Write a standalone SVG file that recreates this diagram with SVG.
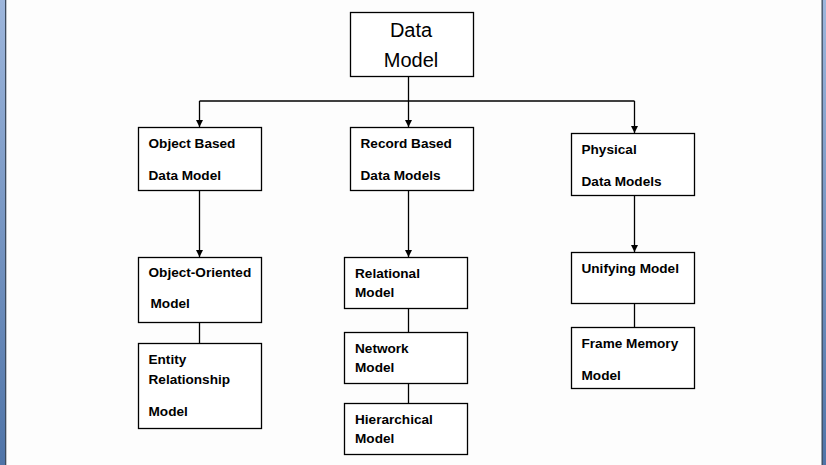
<svg xmlns="http://www.w3.org/2000/svg" width="826" height="465" viewBox="0 0 826 465">
<defs>
<linearGradient id="edge" x1="0" y1="0" x2="0" y2="1">
<stop offset="0" stop-color="#9db6dc"/>
<stop offset="1" stop-color="#4f74a8"/>
</linearGradient>
<marker id="arr" markerWidth="8" markerHeight="8" refX="7" refY="3.5" orient="auto" markerUnits="userSpaceOnUse">
<path d="M0,0 L7,3.5 L0,7 Z" fill="#000"/>
</marker>
<style>
.box{fill:#fff;stroke:#000;stroke-width:1.3}
.t{font-family:"Liberation Sans",Arial,sans-serif;font-weight:bold;font-size:13.6px;fill:#000}
.title{font-family:"Liberation Sans",Arial,sans-serif;font-size:20px;fill:#000;text-anchor:middle}
.c{fill:none;stroke:#000;stroke-width:1.3}
</style>
</defs>
<rect x="0" y="0" width="826" height="465" fill="#fdfdfd"/>
<rect x="0" y="0" width="5" height="465" fill="url(#edge)"/>
<rect x="5" y="0" width="1.3" height="465" fill="#3c4a5c"/>
<rect x="822" y="0" width="4" height="465" fill="url(#edge)"/>
<rect x="821.5" y="0" width="1.3" height="465" fill="#3c4a5c"/>

<g id="connectors">
<path class="c" d="M408.5,76 V101"/>
<path class="c" d="M199.5,101 H634.5"/>
<path class="c" d="M199.5,101 V127" marker-end="url(#arr)"/>
<path class="c" d="M408.5,101 V127" marker-end="url(#arr)"/>
<path class="c" d="M634.5,101 V133" marker-end="url(#arr)"/>
<path class="c" d="M199.5,190 V257" marker-end="url(#arr)"/>
<path class="c" d="M408.5,190 V257" marker-end="url(#arr)"/>
<path class="c" d="M634.5,195 V252" marker-end="url(#arr)"/>
<path class="c" d="M199.5,322 V343"/>
<path class="c" d="M408.5,308 V332"/>
<path class="c" d="M408.5,383 V403"/>
<path class="c" d="M634.5,303 V327"/>
</g>

<g id="data-model">
<rect class="box" x="350.5" y="12.5" width="123" height="64"/>
<text class="title" x="411" y="37">Data</text>
<text class="title" x="411" y="67">Model</text>
</g>

<g id="object-based">
<rect class="box" x="138.5" y="127.5" width="123" height="63"/>
<text class="t" x="148.5" y="148">Object Based</text>
<text class="t" x="148.5" y="179.5">Data Model</text>
</g>

<g id="record-based">
<rect class="box" x="350.5" y="127.5" width="123" height="63"/>
<text class="t" x="360.5" y="148">Record Based</text>
<text class="t" x="360.5" y="179.5">Data Models</text>
</g>

<g id="physical">
<rect class="box" x="571.5" y="133.5" width="123" height="62"/>
<text class="t" x="581.5" y="153.5">Physical</text>
<text class="t" x="581.5" y="185.5">Data Models</text>
</g>

<g id="object-oriented">
<rect class="box" x="138.5" y="257.5" width="123" height="65"/>
<text class="t" x="148.5" y="277">Object-Oriented</text>
<text class="t" x="150.5" y="308">Model</text>
</g>

<g id="entity-relationship">
<rect class="box" x="138.5" y="343.5" width="123" height="85"/>
<text class="t" x="148.5" y="364">Entity</text>
<text class="t" x="148.5" y="384">Relationship</text>
<text class="t" x="148.5" y="416">Model</text>
</g>

<g id="relational">
<rect class="box" x="344.5" y="257.5" width="123" height="51"/>
<text class="t" x="355" y="278">Relational</text>
<text class="t" x="355" y="297">Model</text>
</g>

<g id="network">
<rect class="box" x="344.5" y="332.5" width="123" height="51"/>
<text class="t" x="355" y="353">Network</text>
<text class="t" x="355" y="372">Model</text>
</g>

<g id="hierarchical">
<rect class="box" x="344.5" y="403.5" width="123" height="51"/>
<text class="t" x="355" y="424">Hierarchical</text>
<text class="t" x="355" y="443">Model</text>
</g>

<g id="unifying">
<rect class="box" x="571.5" y="252.5" width="123" height="51"/>
<text class="t" x="581.5" y="272.5">Unifying Model</text>
</g>

<g id="frame-memory">
<rect class="box" x="571.5" y="327.5" width="123" height="61"/>
<text class="t" x="581.5" y="348">Frame Memory</text>
<text class="t" x="581.5" y="379.5">Model</text>
</g>
</svg>
